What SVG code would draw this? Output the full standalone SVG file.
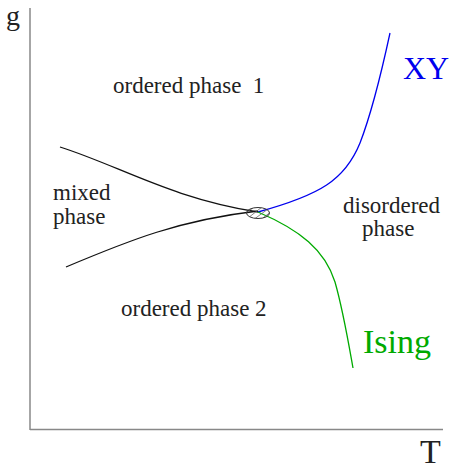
<svg xmlns="http://www.w3.org/2000/svg" width="453" height="470" viewBox="0 0 453 470">
<style>
text{font-family:"Liberation Serif","Times New Roman",serif;fill:#222}
.lbl{font-size:23px}
.axis{stroke:#888;stroke-width:1.5;fill:none}
.curve{fill:none;stroke-width:1.3}
</style>
<defs>
<clipPath id="ec"><ellipse cx="258" cy="213" rx="11.5" ry="5.5"/></clipPath>
</defs>
<rect width="453" height="470" fill="#fff"/>
<g id="axes">
<line class="axis" x1="30" y1="8" x2="30" y2="430"/>
<line class="axis" x1="30" y1="429.5" x2="443" y2="429.5"/>
<text x="6" y="25" style="font-size:28px">g</text>
<text x="420" y="463" style="font-size:34px">T</text>
</g>
<g id="connectors">
<path class="curve" stroke="#111" d="M60,147 C120,166 170,198 258,212"/>
<path class="curve" stroke="#111" d="M66,267 C130,240 180,220 258,211"/>
<path class="curve" stroke="#0000ee" d="M258,212 C320,195 345,180 360,143 C372,112 382,70 390,33"/>
<path class="curve" stroke="#00aa00" d="M258,212 C300,230 325,250 335,282 C343,310 348,340 353,368"/>
</g>
<g id="critical-point">
<g clip-path="url(#ec)" stroke="#666" stroke-width="0.8">
<line x1="244" y1="214" x2="256" y2="206"/>
<line x1="248" y1="218" x2="262" y2="207"/>
<line x1="253" y1="220" x2="268" y2="209"/>
<line x1="259" y1="221" x2="272" y2="211"/>
</g>
<ellipse cx="258" cy="213" rx="11.5" ry="5.5" fill="none" stroke="#333" stroke-width="1"/>
</g>
<g id="ordered1"><text class="lbl" x="113" y="93" xml:space="preserve">ordered phase  1</text></g>
<g id="mixed"><text class="lbl" x="53" y="200">mixed</text><text class="lbl" x="53" y="224">phase</text></g>
<g id="disordered"><text class="lbl" x="343" y="213">disordered</text><text class="lbl" x="362" y="236">phase</text></g>
<g id="ordered2"><text class="lbl" x="121" y="316">ordered phase 2</text></g>
<g id="xy"><text x="403" y="79" style="font-size:32px;fill:#0000ee">XY</text></g>
<g id="ising"><text x="363" y="353" style="font-size:34px;fill:#00aa00">Ising</text></g>
</svg>
